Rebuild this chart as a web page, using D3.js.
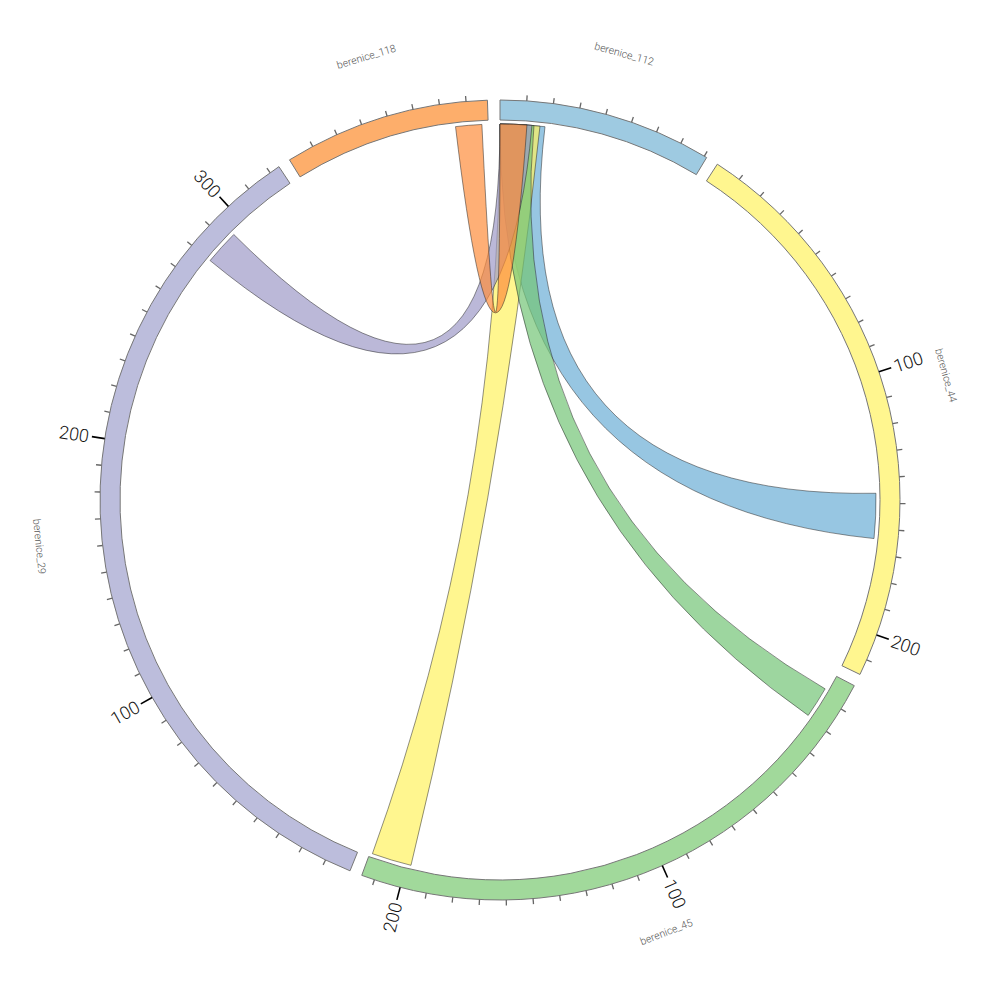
<!DOCTYPE html>
<html><head><meta charset="utf-8">
<script src="https://cdn.jsdelivr.net/npm/d3@7"></script>
<style>body{margin:0;background:#fff} svg{display:block}</style>
</head><body>
<svg id="c" width="1000" height="1000"></svg>
<script>
// ---- data ----
const segmentNames   = ["berenice_112","berenice_44","berenice_45","berenice_29","berenice_118"];
const segmentLengths = [81, 216, 215, 324, 78];
const segmentColors  = ["#9ecae1","#fff68f","#a1d99b","#bcbddc","#fdae6b"];

const linkSourceSeg   = ["berenice_112","berenice_112","berenice_112","berenice_112","berenice_112"];
const linkSourceStart = [0, 0, 0, 0, 0];
const linkSourceEnd   = [17.9, 15.9, 13.5, 12.7, 10.7];
const linkTargetSeg   = ["berenice_44","berenice_45","berenice_45","berenice_29","berenice_118"];
const linkTargetStart = [146, 198, 6.5, 280, 65];
const linkTargetEnd   = [164, 214, 19, 294, 75.5];
const linkColors      = ["#6baed6","#fff25f","#74c476","#9e9ac8","#fd8d3c"];

const minorTickStep = 10;
const majorTickStep = 100;

// ---- layout ----
const cx = 500, cy = 500;
const rIn = 380, rOut = 400, rLink = 376;
const gapDeg = 1.8;
const total = d3.sum(segmentLengths);
const degPerUnit = (360 - gapDeg * segmentNames.length) / total;
const rad = d => d * Math.PI / 180;

let acc = 0;
const segs = segmentNames.map((name, i) => {
  const start = acc;
  const end = start + segmentLengths[i] * degPerUnit;
  acc = end + gapDeg;
  const scale = d3.scaleLinear().domain([0, segmentLengths[i]]).range([start, end]);
  return {name, len: segmentLengths[i], color: segmentColors[i], start, end, scale};
});
const segByName = Object.fromEntries(segs.map(s => [s.name, s]));

const svg = d3.select("#c");
const g = svg.append("g").attr("transform", `translate(${cx},${cy})`);

// segments
const arc = d3.arc().innerRadius(rIn).outerRadius(rOut);
g.selectAll("path.seg").data(segs).join("path")
  .attr("class", "seg")
  .attr("d", s => arc({startAngle: rad(s.start), endAngle: rad(s.end)}))
  .attr("fill", s => s.color)
  .attr("stroke", "#777")
  .attr("stroke-width", 1);

// ticks
segs.forEach(s => {
  const vals = d3.range(minorTickStep, s.len, minorTickStep);
  vals.forEach(v => {
    const deg = s.scale(v);
    const major = Math.round(v) % majorTickStep === 0;
    const tg = g.append("g").attr("transform", `rotate(${deg - 90})`);
    tg.append("line")
      .attr("x1", rOut).attr("x2", rOut + (major ? 13 : 5.5))
      .attr("stroke", major ? "#000" : "#666")
      .attr("stroke-width", major ? 1.6 : 1.3);
    if (major) {
      const flip = deg > 180;
      tg.append("text")
        .attr("transform", `translate(${rOut + 16},0)` + (flip ? " rotate(180)" : ""))
        .attr("text-anchor", flip ? "end" : "start")
        .attr("dominant-baseline", "central")
        .attr("font-family", "Roboto, 'DejaVu Sans', sans-serif")
        .attr("font-weight", 300)
        .attr("font-size", 18)
        .attr("fill", "#111")
        .text(Math.round(v));
    }
  });
});

// segment labels
segs.forEach(s => {
  const mid = (s.start + s.end) / 2;
  const flip = mid > 90 && mid < 270;
  g.append("text")
    .attr("transform", `rotate(${mid}) translate(0,${-463})` + (flip ? " rotate(180)" : ""))
    .attr("text-anchor", "middle")
    .attr("dominant-baseline", "central")
    .attr("font-family", "Roboto, 'DejaVu Sans', sans-serif")
    .attr("font-weight", 300)
    .attr("font-size", 10.5)
    .attr("fill", "#555")
    .text(s.name);
});

// links (drawn widest first, normal blending)
const ribbon = d3.ribbon().radius(rLink);
const links = linkSourceSeg.map((src, i) => ({
  source: {startAngle: rad(segByName[src].scale(linkSourceStart[i])), endAngle: rad(segByName[src].scale(linkSourceEnd[i]))},
  target: {startAngle: rad(segByName[linkTargetSeg[i]].scale(linkTargetStart[i])), endAngle: rad(segByName[linkTargetSeg[i]].scale(linkTargetEnd[i]))},
  color: linkColors[i]
}));
g.append("g").selectAll("path.link").data(links).join("path")
  .attr("class", "link")
  .attr("d", ribbon)
  .attr("fill", d => d.color)
  .attr("fill-opacity", 0.7)
  .attr("stroke", "#222")
  .attr("stroke-width", 0.5);
</script>
</body></html>
